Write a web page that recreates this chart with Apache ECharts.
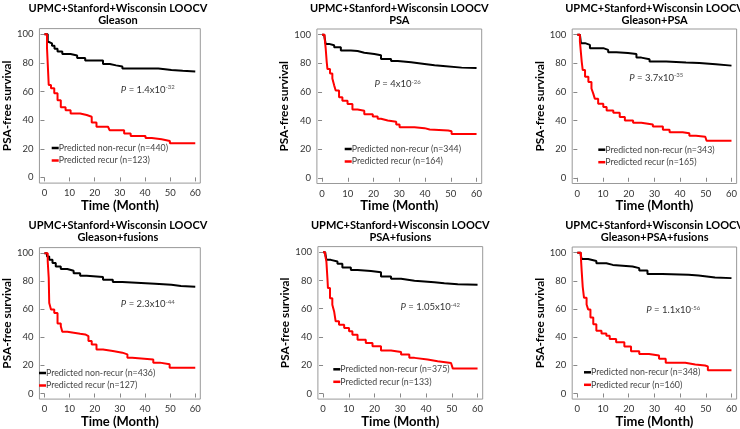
<!DOCTYPE html>
<html>
<head>
<meta charset="utf-8">
<script src="https://cdn.jsdelivr.net/npm/echarts@6/dist/echarts.min.js"></script>
<style>
  html, body { margin: 0; padding: 0; background: #fff; }
  #main { width: 740px; height: 429px; }
</style>
</head>
<body>
<div id="main"></div>
<script>
// Kaplan-Meier curves: [month, % PSA-free]
var gleasonNon = [[0,100],[1.3,95],[1.8,93.7],[3,92],[4,90],[5.2,88],[7.1,86.2],[10.4,85.2],[13,83.4],[16.2,81.7],[23.3,79.2],[26,78.3],[28.5,77.5],[31,76.1],[45.3,75.6],[48,75],[50.5,74.5],[55,74],[60,74]];
var gleasonRec = [[0,100],[1,91],[1.7,64.6],[2.6,62.3],[3.9,58.8],[5.2,54],[6.5,49],[8.4,47],[10.4,44.7],[14.2,43.6],[16.8,42.4],[18.8,38.4],[20.7,35.4],[25.3,34.7],[25.9,33],[31.7,30.7],[34.3,29],[40.2,27.6],[42.7,26.7],[46.6,25.5],[49.9,23.9],[60,23.9]];

var psaNon = [[0,100],[0.8,99],[1.4,93.6],[2.7,92.6],[4.7,91.2],[7.3,89],[11.2,88.6],[13.8,87.4],[16.4,86.5],[20.3,85.7],[22.9,83.1],[26.8,81.7],[29.4,80.8],[34.6,79.6],[39.8,78.6],[43.7,78.1],[47,77],[54.2,76.7],[60,76.5]];
var psaRec = [[0,100],[1,97.9],[1.4,90.7],[1.8,81.2],[2.1,76],[3.1,72.9],[4,69.4],[4.7,64.6],[5.3,61],[6.6,56.3],[7.9,53.9],[9.9,51.5],[11.8,47.7],[13.8,46.8],[16.4,44.4],[19.7,42.8],[21.6,41.3],[22.9,40.1],[25.5,39.2],[28.8,37.3],[30.1,35.4],[35.9,34.7],[39.8,33.7],[41.8,33],[49,32.5],[50.3,30.6],[60,30.6]];

var gpNon = [[0,100],[1,99],[1.4,94.1],[3,92.9],[4.9,90.6],[10.1,89.4],[12,87.8],[15.2,87.3],[19.7,86.6],[23,84],[24.9,82.8],[28.1,81.2],[34.6,80.5],[42.3,80.2],[47.5,79.3],[53.9,78.4],[60,78.1]];
var gpRec = [[0,100],[1,95.3],[1.7,81.2],[2.1,75.3],[3,70.6],[4.3,67],[5.5,62.4],[6.2,58.8],[6.8,55.3],[8.1,51.8],[10.1,49.4],[11.4,47],[14,45.4],[16.5,42.4],[18.5,40],[21.7,38.4],[24.9,37.2],[29.4,35.8],[33.3,33.6],[35.9,31.8],[41,31.1],[43.6,29.4],[46.2,28.7],[49.8,28.2],[50.3,25.9],[60,25.9]];

var gfNon = [[0,100],[1,97.6],[1.9,95.3],[3.2,93],[4.5,90.5],[6.5,88.7],[9.1,87.5],[11.6,85.8],[14.2,83.9],[16.8,83],[23.3,81.1],[27.2,79.4],[31,78.3],[44,77.5],[50.5,76.6],[54.3,76.1],[60,76.1]];
var gfRec = [[0,100],[1.3,94.1],[1.7,82.3],[1.9,64.5],[2.6,59.8],[3.9,57.4],[5.2,49.9],[6.5,48],[7.1,44],[9.1,42.6],[14.2,42.1],[16.2,40.9],[17.5,37.4],[18.8,35],[20.7,31.4],[23.3,30.3],[27.2,29.1],[31,27.9],[33,25.5],[34.9,24.3],[43.3,22],[45.9,20.8],[49.8,18.4],[60,18.4]];

var pfNon = [[0,100],[0.8,99.3],[1.3,94.6],[3,93.4],[5.6,91.8],[7.5,89.2],[10.8,87.5],[13.4,86.8],[18.6,85.9],[22.5,82.8],[26.4,81.2],[30.3,79.8],[35.5,78.8],[43.2,78.1],[47.1,77.4],[52.3,76.9],[60,76.7]];
var pfRec = [[0,100],[0.8,98.1],[1.3,93.4],[1.7,81.6],[1.9,74.6],[2.7,67.5],[3.6,62.8],[4.3,58.1],[4.9,51.1],[6.2,48.7],[8.2,46.4],[10.1,44],[11.4,41.6],[13.4,38.1],[16.6,35.8],[19.2,33.4],[22.5,30.4],[26.4,29.4],[30.3,27.5],[33.5,25.2],[35.5,24],[40.6,22.8],[44.5,21.6],[49.7,21.2],[50.4,17.6],[60,17.6]];

var gpfNon = [[0,100],[1.3,98.4],[1.7,95.5],[4.2,94.1],[7.4,92.5],[11.3,91.3],[13.8,90.2],[21.5,89],[24.1,87.4],[27.3,84.8],[33.1,84.3],[43.3,83.8],[47.2,82.4],[53.6,81.9],[60,81.7]];
var gpfRec = [[0,100],[1.4,96],[1.7,86.7],[2.1,75.6],[2.6,67.9],[3.6,63.2],[4.2,59.7],[5.1,53.9],[6.2,49.2],[7.4,44.5],[9.4,42.6],[11.3,41],[12.6,38.6],[15.1,36.3],[18.3,33.3],[20.9,30],[24.1,28.1],[27.9,26.9],[31.8,24.6],[34.4,21.8],[42,20.6],[45.9,19.9],[49.7,19.2],[50.8,16.4],[60,16.4]];

var models = ['Gleason', 'PSA', 'Gleason+PSA', 'Gleason+fusions', 'PSA+fusions', 'Gleason+PSA+fusions'];
var nonRecurN = [440, 344, 343, 436, 375, 348];
var recurN = [123, 164, 165, 127, 133, 160];
var pMantissa = ['1.4', '4', '3.7', '2.3', '1.05', '1.1'];
var pExponent = ['-32', '-26', '-35', '-44', '-42', '-56'];
var pLabelAt = [[30.4, 61.4], [20.4, 65.4], [20.2, 70.1], [30.4, 63.8], [30.1, 61.2], [26.8, 59.2]];
var nonCurves = [gleasonNon, psaNon, gpNon, gfNon, pfNon, gpfNon];
var recCurves = [gleasonRec, psaRec, gpRec, gfRec, pfRec, gpfRec];
var timeTicks = [0, 10, 20, 30, 40, 50, 60];
var survTicks = [0, 20, 40, 60, 80, 100];

// panel layout: grid left/top, title first-line centre y, legend first line position
var layout = [
  { left: 35.5, top: 28.6, titleY: 8.3, legX: 51.7, legY: 149 },
  { left: 316.9, top: 29, titleY: 8.3, legX: 344.7, legY: 150 },
  { left: 572.2, top: 29, titleY: 8.3, legX: 598.3, legY: 150.7 },
  { left: 35.5, top: 247.6, titleY: 225.4, legX: 39, legY: 374 },
  { left: 317.9, top: 246.6, titleY: 225.4, legX: 333.3, legY: 370.3 },
  { left: 572.2, top: 247, titleY: 225.4, legX: 584, legY: 373.3 }
];
var gw = 164.8, gh = 154.5;
var font = 'Lato';
var titleLH = 12.4;

var option = {
  backgroundColor: '#fff',
  animation: false,
  textStyle: { fontFamily: font },
  graphic: [], grid: [], xAxis: [], yAxis: [], legend: [], series: []
};

for (var i = 0; i < 6; i++) {
  var L = layout[i];
  var nonName = 'Predicted non-recur (n=' + nonRecurN[i] + ')';
  var recName = 'Predicted recur (n=' + recurN[i] + ')';
  option.graphic.push({
    type: 'text', silent: true,
    x: L.left + gw / 2, y: L.titleY - titleLH / 2,
    style: {
      text: 'UPMC+Stanford+Wisconsin LOOCV\n' + models[i],
      align: 'center', verticalAlign: 'top', lineHeight: titleLH,
      fontFamily: font, fontSize: 11, fontWeight: 'bold', fill: '#000'
    }
  });
  option.grid.push({
    left: L.left, top: L.top, width: gw, height: gh,
    show: true, borderColor: '#999', borderWidth: 1, backgroundColor: 'transparent'
  });
  option.xAxis.push({
    gridIndex: i, type: 'value', min: -2, max: 62,
    name: 'Time (Month)', nameLocation: 'middle', nameGap: 13,
    nameTextStyle: { fontFamily: font, fontSize: 13, fontWeight: 'bold', color: '#000' },
    axisLine: { show: false },
    axisTick: { show: true, inside: false, length: 4, lineStyle: { color: '#888' }, customValues: timeTicks },
    axisLabel: { fontSize: 9.5, color: '#333', margin: 5, customValues: timeTicks },
    splitLine: { show: false }
  });
  option.yAxis.push({
    gridIndex: i, type: 'value', min: -4, max: 104,
    name: 'PSA-free survival', nameLocation: 'middle', nameGap: 21, nameRotate: 90,
    nameTextStyle: { fontFamily: font, fontSize: 11.8, fontWeight: 'bold', color: '#000' },
    axisLine: { show: false },
    axisTick: { show: true, inside: false, length: 4, lineStyle: { color: '#888' }, customValues: survTicks },
    axisLabel: { fontSize: 9.5, color: '#333', margin: 6, customValues: survTicks },
    splitLine: { show: false }
  });
  option.legend.push({
    data: [nonName, recName],
    left: L.legX, top: L.legY - 5.5, padding: 0,
    orient: 'vertical', icon: 'rect', itemWidth: 7, itemHeight: 2.5, itemGap: 3.5,
    selectedMode: false,
    textStyle: { fontFamily: font, fontSize: 8.8, color: '#444', padding: [0, 0, 0, -5] }
  });
  option.series.push({
    name: nonName, type: 'line', step: 'end', xAxisIndex: i, yAxisIndex: i,
    data: nonCurves[i], showSymbol: false, color: '#000',
    lineStyle: { width: 2, color: '#000' },
    markPoint: {
      symbol: 'circle', symbolSize: 0, silent: true,
      data: [{ coord: pLabelAt[i] }],
      label: {
        show: true, position: 'right', distance: 0,
        formatter: '{i|P}{n| = ' + pMantissa[i] + 'x10}{s|' + pExponent[i] + '}',
        rich: {
          i: { fontFamily: font, fontSize: 9.5, fontStyle: 'italic', color: '#333' },
          n: { fontFamily: font, fontSize: 9.5, color: '#333' },
          s: { fontFamily: font, fontSize: 6, color: '#555', verticalAlign: 'top' }
        }
      }
    }
  });
  option.series.push({
    name: recName, type: 'line', step: 'end', xAxisIndex: i, yAxisIndex: i,
    data: recCurves[i], showSymbol: false, color: '#ff0000',
    lineStyle: { width: 2, color: '#ff0000' }
  });
}

var chart = echarts.init(document.getElementById('main'));
chart.setOption(option);
</script>
</body>
</html>
